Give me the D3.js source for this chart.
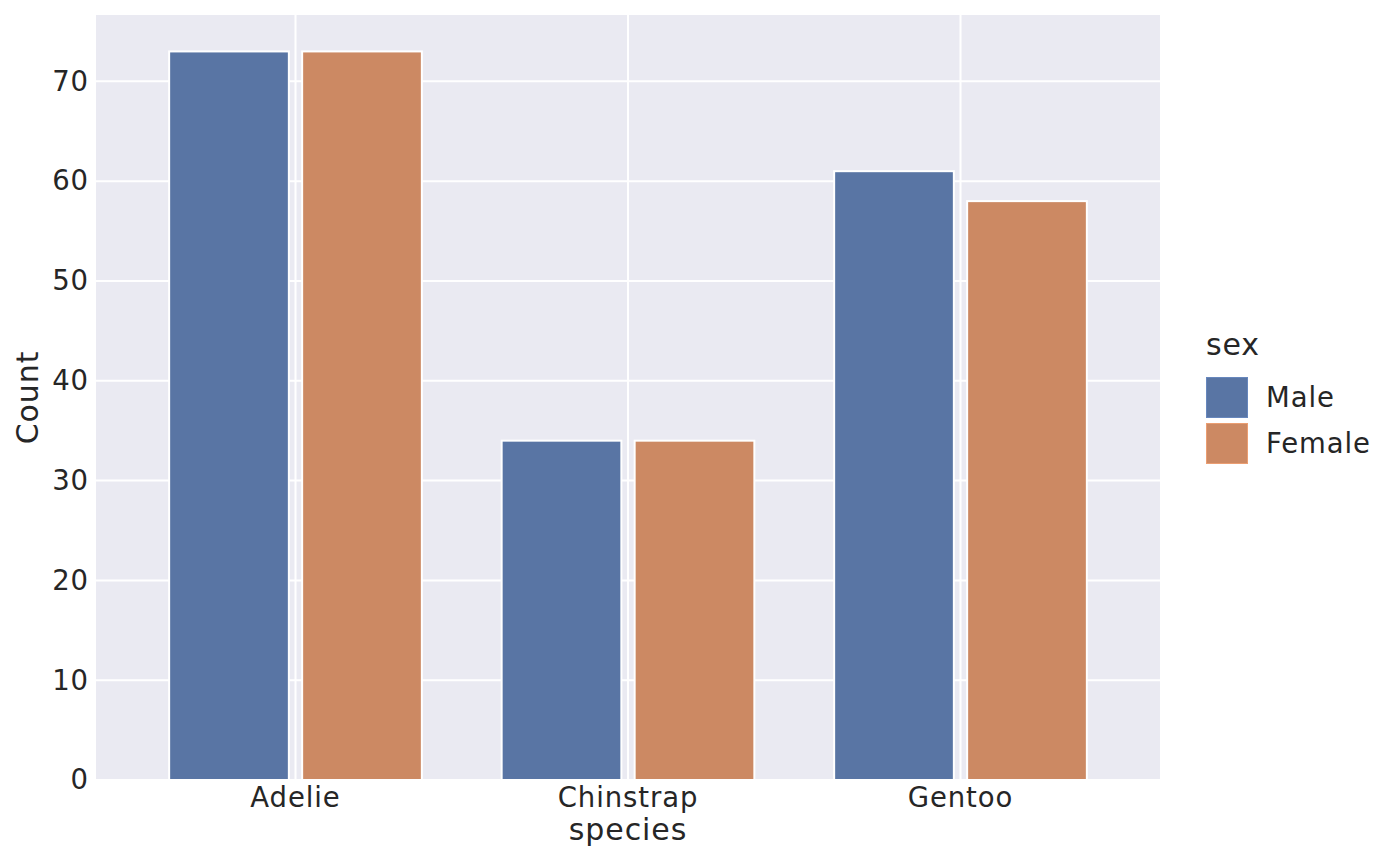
<!DOCTYPE html>
<html>
<head>
<meta charset="utf-8">
<script src="https://cdn.jsdelivr.net/npm/d3@7"></script>
<style>
  body { margin: 0; background: #fff; }
  svg { display: block; font-family: "DejaVu Sans", sans-serif; }
  text { letter-spacing: 0.9px; }
</style>
</head>
<body>
<svg id="chart" width="1400" height="866"></svg>
<script>
// data
const species = ['Adelie', 'Chinstrap', 'Gentoo'];
const sexes = ['Male', 'Female'];
const maleCounts = [73, 34, 61];
const femaleCounts = [73, 34, 58];
const yTicks = [0, 10, 20, 30, 40, 50, 60, 70];
const sexColors = ['#5975a4', '#cc8963'];

const rows = [];
species.forEach((s, i) => {
  rows.push({ species: s, sex: 'Male', count: maleCounts[i] });
  rows.push({ species: s, sex: 'Female', count: femaleCounts[i] });
});

const svg = d3.select('#chart');
const plotL = 96, plotR = 1160, plotT = 15, plotB = 780;
const textColor = '#262626';

const x = d3.scaleBand().domain(species).range([plotL, plotR])
  .paddingInner(0).paddingOuter(0.1);
const step = x.bandwidth();
const xSex = d3.scaleBand().domain(sexes).range([0.1 * step, 0.9 * step]);
const ymax = d3.max(rows, (d) => d.count) * 1.05;
const y = d3.scaleLinear().domain([0, ymax]).range([plotB, plotT]);
const color = d3.scaleOrdinal().domain(sexes).range(sexColors);

svg.append('defs').append('clipPath').attr('id', 'plotClip')
  .append('rect')
  .attr('x', plotL).attr('y', plotT)
  .attr('width', plotR - plotL).attr('height', plotB - plotT);

// background
svg.append('rect')
  .attr('x', plotL).attr('y', plotT)
  .attr('width', plotR - plotL).attr('height', plotB - plotT)
  .attr('fill', '#eaeaf2');

// grid
const grid = svg.append('g').attr('clip-path', 'url(#plotClip)');
grid.selectAll('line.h').data(yTicks).enter()
  .append('line')
  .attr('class', 'h')
  .attr('x1', plotL).attr('x2', plotR)
  .attr('y1', (d) => y(d)).attr('y2', (d) => y(d))
  .attr('stroke', '#fff').attr('stroke-width', 2);
grid.selectAll('line.v').data(species).enter()
  .append('line')
  .attr('class', 'v')
  .attr('y1', plotT).attr('y2', plotB)
  .attr('x1', (d) => x(d) + step / 2).attr('x2', (d) => x(d) + step / 2)
  .attr('stroke', '#fff').attr('stroke-width', 2);

// bars
const bw = xSex.bandwidth();
svg.append('g').attr('clip-path', 'url(#plotClip)')
  .selectAll('rect').data(rows).enter()
  .append('rect')
  .attr('x', (d) => x(d.species) + xSex(d.sex) + bw * 0.05)
  .attr('width', bw * 0.9)
  .attr('y', (d) => y(d.count))
  .attr('height', (d) => y(0) - y(d.count))
  .attr('fill', (d) => color(d.sex))
  .attr('stroke', '#fff')
  .attr('stroke-width', 2);

// axes
const yAxis = svg.append('g')
  .attr('transform', `translate(${plotL},0)`)
  .call(d3.axisLeft(y).tickValues(yTicks).tickSize(0).tickPadding(7));
const xAxis = svg.append('g')
  .attr('transform', `translate(0,${plotB})`)
  .call(d3.axisBottom(x).tickSize(0).tickPadding(7));
[xAxis, yAxis].forEach((g) => {
  g.select('.domain').remove();
  g.selectAll('text')
    .attr('fill', textColor)
    .style('font-size', '27.5px')
    .style('font-family', '"DejaVu Sans", sans-serif');
});

svg.append('text')
  .attr('x', (plotL + plotR) / 2).attr('y', 840)
  .attr('text-anchor', 'middle')
  .attr('fill', textColor)
  .style('font-size', '30px')
  .text('species');

svg.append('text')
  .attr('transform', `translate(38,${(plotT + plotB) / 2}) rotate(-90)`)
  .attr('text-anchor', 'middle')
  .attr('fill', textColor)
  .style('font-size', '30px')
  .text('Count');

// legend
const legend = svg.append('g').attr('transform', 'translate(1206,0)');
legend.append('text')
  .attr('x', 0).attr('y', 355)
  .attr('fill', textColor)
  .style('font-size', '30px')
  .text('sex');
const items = legend.selectAll('g.item').data(sexes).enter()
  .append('g')
  .attr('class', 'item')
  .attr('transform', (d, i) => `translate(0,${377 + i * 46})`);
items.append('rect')
  .attr('x', 0.5).attr('y', 0.5)
  .attr('width', 41).attr('height', 40)
  .attr('fill', (d) => color(d))
  .attr('stroke', (d) => d3.color(color(d)).brighter(0.4))
  .attr('stroke-width', 1);
items.append('text')
  .attr('x', 60).attr('y', 30)
  .attr('fill', textColor)
  .style('font-size', '27.5px')
  .text((d) => d);
</script>
</body>
</html>
